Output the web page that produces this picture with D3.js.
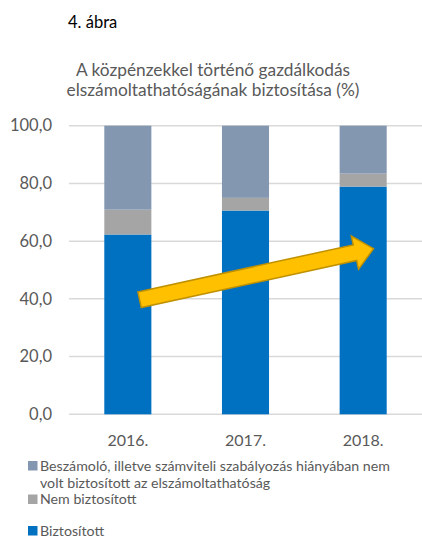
<!DOCTYPE html>
<html>
<head>
<meta charset="utf-8">
<script src="https://cdn.jsdelivr.net/npm/d3@7"></script>
<style>
  body { margin: 0; background: #fff; }
  svg { display: block; font-family: Lato, "Open Sans", sans-serif; }
</style>
</head>
<body>
<div id="chart"></div>
<script>
const years = ['2016.', '2017.', '2018.']
const biztositott = [62.3, 70.6, 78.9]
const nemBiztositott = [8.6, 4.4, 4.5]
const hianyaban = [29.1, 25.0, 16.6]
const seriesNames = [
  'Beszámoló, illetve számviteli szabályozás hiányában nem volt biztosított az elszámoltathatóság',
  'Nem biztosított',
  'Biztosított'
]
const yTicks = [0, 20, 40, 60, 80, 100]
// arrow annotation: from [category, value] to [category, value]
const trendFrom = ['2016.', 39.7]
const trendTo = ['2018.', 57.4]

const width = 422
const height = 539
const colors = { hianyaban: '#8497b0', nem: '#a5a5a5', bizt: '#0070c0' }
const font = 'Lato, "Open Sans", sans-serif'

const svg = d3.select('#chart').append('svg')
  .attr('width', width)
  .attr('height', height)

const x = d3.scaleBand()
  .domain(years)
  .range([69, 422])
  .paddingInner(0.6)
  .paddingOuter(0.3)

const y = d3.scaleLinear()
  .domain([0, 100])
  .range([414.3, 125.7])

svg.append('text')
  .attr('x', 68).attr('y', 28)
  .attr('font-size', 16.5).attr('fill', '#000')
  .text('4. ábra')

const title = svg.append('text')
  .attr('text-anchor', 'middle')
  .attr('font-size', 17.3).attr('fill', '#595959')
title.append('tspan').attr('x', 213).attr('y', 76).text('A közpénzekkel történő gazdálkodás')
title.append('tspan').attr('x', 213).attr('y', 96).text('elszámoltathatóságának biztosítása (%)')

// gridlines
svg.append('g').selectAll('line')
  .data(yTicks)
  .join('line')
  .attr('x1', 69).attr('x2', 422)
  .attr('y1', d => y(d)).attr('y2', d => y(d))
  .attr('stroke', '#d9d9d9').attr('stroke-width', 1.5)

const yAxis = svg.append('g')
  .attr('transform', 'translate(52,0)')
  .call(d3.axisLeft(y).tickValues(yTicks).tickSize(0).tickPadding(0)
    .tickFormat(d => d3.format('.1f')(d).replace('.', ',')))
yAxis.select('.domain').remove()
yAxis.selectAll('text')
  .attr('font-size', 16.5).attr('fill', '#595959')
  .attr('font-family', font)

const xAxis = svg.append('g')
  .attr('transform', 'translate(0,' + y(0) + ')')
  .call(d3.axisBottom(x).tickSize(0).tickPadding(20))
xAxis.select('.domain').remove()
xAxis.selectAll('text')
  .attr('font-size', 16).attr('fill', '#595959')
  .attr('font-family', font)

// stacked bars
const rows = years.map((yr, i) => ({ year: yr, bizt: biztositott[i], nem: nemBiztositott[i], hianyaban: hianyaban[i] }))
const stack = d3.stack().keys(['bizt', 'nem', 'hianyaban'])(rows)

svg.append('g').selectAll('g')
  .data(stack)
  .join('g')
  .attr('fill', d => colors[d.key])
  .selectAll('rect')
  .data(d => d)
  .join('rect')
  .attr('x', d => x(d.data.year))
  .attr('width', x.bandwidth())
  .attr('y', d => y(d[1]))
  .attr('height', d => y(d[0]) - y(d[1]))

// trend arrow
const x0 = x(trendFrom[0]) + x.bandwidth() * 0.75
const y0 = y(trendFrom[1])
const x1 = x(trendTo[0]) + x.bandwidth() * 0.72
const y1 = y(trendTo[1])
const len = Math.hypot(x1 - x0, y1 - y0)
const ang = Math.atan2(y1 - y0, x1 - x0) * 180 / Math.PI
const sw = 8, hw = 17, hl = 19
svg.append('path')
  .attr('transform', 'translate(' + x0 + ',' + y0 + ') rotate(' + ang + ')')
  .attr('d', 'M0,' + -sw + 'L' + (len - hl) + ',' + -sw + 'L' + (len - hl) + ',' + -hw +
    'L' + len + ',0L' + (len - hl) + ',' + hw + 'L' + (len - hl) + ',' + sw + 'L0,' + sw + 'Z')
  .attr('fill', '#ffc000')
  .attr('stroke', '#bf9000')
  .attr('stroke-width', 1.5)
  .attr('stroke-linejoin', 'miter')

// legend
const legend = svg.append('g').attr('font-size', 14.2).attr('fill', '#595959')
const legendItems = [
  { name: seriesNames[0], color: colors.hianyaban, y: 470.5, lines: ['Beszámoló, illetve számviteli szabályozás hiányában nem', 'volt biztosított az elszámoltathatóság'] },
  { name: seriesNames[1], color: colors.nem, y: 504, lines: ['Nem biztosított'] },
  { name: seriesNames[2], color: colors.bizt, y: 535.5, lines: ['Biztosított'] }
]
legendItems.forEach(it => {
  legend.append('rect')
    .attr('x', 28).attr('y', it.y - 9.5).attr('width', 9.5).attr('height', 9.5)
    .attr('fill', it.color)
  const t = legend.append('text')
  it.lines.forEach((ln, i) => {
    t.append('tspan').attr('x', 40).attr('y', it.y + i * 17.5).text(ln)
  })
})
</script>
</body>
</html>
